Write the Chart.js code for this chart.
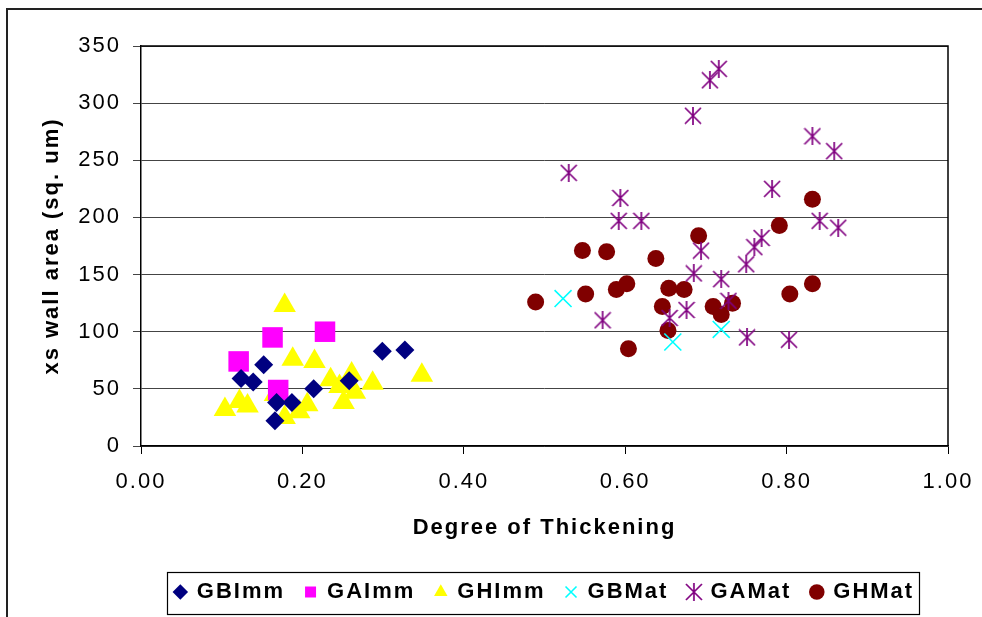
<!DOCTYPE html>
<html>
<head>
<meta charset="utf-8">
<script src="https://cdn.jsdelivr.net/npm/chart.js@4.4.1/dist/chart.umd.min.js"></script>
<style>
    html, body { margin: 0; padding: 0; background: #fff; }
    #wrap { width: 982px; height: 617px; position: relative; }
</style>
</head>
<body>
<div id="wrap"><canvas id="grafico"></canvas></div>
<script>
// valores: [grau de espessamento, área da parede]
const gbImm = [[0.124, 59], [0.139, 56], [0.152, 71], [0.168, 38], [0.166, 22], [0.187, 38],
    [0.214, 50], [0.258, 57], [0.299, 83], [0.327, 84]];
const gaImm = [[0.121, 74], [0.163, 95], [0.228, 100], [0.170, 49]];
const ghImm = [[0.104, 32], [0.122, 39], [0.132, 35], [0.166, 45], [0.178, 25], [0.196, 30],
    [0.178, 123], [0.188, 76], [0.215, 74], [0.206, 36], [0.235, 58], [0.246, 52], [0.261, 63],
    [0.251, 38], [0.265, 47], [0.287, 55], [0.348, 62]];
const gbMat = [[0.523, 129], [0.719, 102], [0.659, 91]];
const gaMat = [[0.530, 239], [0.594, 217], [0.592, 197], [0.620, 197], [0.782, 225], [0.841, 197],
    [0.864, 191], [0.769, 182], [0.760, 174], [0.750, 159], [0.694, 171], [0.685, 151], [0.719, 146],
    [0.676, 119], [0.572, 110], [0.655, 112], [0.728, 127], [0.751, 95], [0.803, 93], [0.716, 330],
    [0.705, 320], [0.684, 289], [0.832, 271], [0.859, 258]];
const ghMat = [[0.489, 126], [0.547, 171], [0.577, 170], [0.551, 133], [0.589, 137], [0.602, 142],
    [0.638, 164], [0.604, 85], [0.691, 184], [0.654, 138], [0.673, 137], [0.646, 122], [0.653, 101],
    [0.709, 122], [0.719, 115], [0.733, 125], [0.791, 193], [0.832, 216], [0.804, 133], [0.832, 142]];

const seriesNames = ['GBImm', 'GAImm', 'GHImm', 'GBMat', 'GAMat', 'GHMat'];
const xTickLabels = ['0.00', '0.20', '0.40', '0.60', '0.80', '1.00'];
const yTickLabels = ['0', '50', '100', '150', '200', '250', '300', '350'];

const toPoints = lista => lista.map(p => ({ x: p[0], y: p[1] }));

// asterisco do Excel: X com traço vertical
function criarAsterisco(cor, tamanho) {
    const c = document.createElement('canvas');
    c.width = tamanho;
    c.height = tamanho;
    const g = c.getContext('2d');
    const m = tamanho / 2;
    const d = tamanho / 2 - 1;
    g.strokeStyle = cor;
    g.lineWidth = 1.7;
    g.beginPath();
    g.moveTo(m - d, m - d); g.lineTo(m + d, m + d);
    g.moveTo(m + d, m - d); g.lineTo(m - d, m + d);
    g.moveTo(m, 0); g.lineTo(m, tamanho);
    g.stroke();
    return c;
}

const asterisco = criarAsterisco('#800080', 18);

// o texto do Excel sai mais espaçado
const espacamento = {
    id: 'espacamento',
    beforeLayout(chart) { chart.ctx.letterSpacing = '2px'; },
    beforeDraw(chart) { chart.ctx.letterSpacing = '2px'; }
};

const bordas = {
    id: 'bordas',
    afterDraw(chart) {
        const ctx = chart.ctx;
        const a = chart.chartArea;
        ctx.save();
        ctx.strokeStyle = '#000';
        ctx.lineWidth = 1.5;
        ctx.beginPath();
        ctx.moveTo(a.left, a.top);
        ctx.lineTo(a.right, a.top);
        ctx.lineTo(a.right, a.bottom);
        ctx.stroke();
        // moldura externa
        ctx.strokeStyle = '#222';
        ctx.lineWidth = 2;
        ctx.strokeRect(7, 9, 1100, 1100);
        // caixa da legenda
        ctx.lineWidth = 1.2;
        ctx.strokeStyle = '#000';
        ctx.strokeRect(167.5, 572.5, 752, 42);
        ctx.restore();
    }
};

const fonte = 'Liberation Sans, Arial, sans-serif';

const ctx = document.getElementById('grafico').getContext('2d');
new Chart(ctx, {
    type: 'scatter',
    data: {
        datasets: [
            { label: seriesNames[0], data: toPoints(gbImm), pointStyle: 'rectRot', pointRadius: 9.5,
              backgroundColor: '#000080', borderColor: '#000080', borderWidth: 0 },
            { label: seriesNames[1], data: toPoints(gaImm), pointStyle: 'rect', pointRadius: 14.5,
              backgroundColor: '#FF00FF', borderColor: '#FF00FF', borderWidth: 0 },
            { label: seriesNames[2], data: toPoints(ghImm), pointStyle: 'triangle', pointRadius: 13,
              backgroundColor: '#FFFF00', borderColor: '#FFFF00', borderWidth: 0 },
            { label: seriesNames[3], data: toPoints(gbMat), pointStyle: 'crossRot', pointRadius: 12,
              backgroundColor: '#00FFFF', borderColor: '#00FFFF', borderWidth: 1.6 },
            { label: seriesNames[4], data: toPoints(gaMat), pointStyle: asterisco, pointRadius: 9,
              backgroundColor: '#800080', borderColor: '#800080' },
            { label: seriesNames[5], data: toPoints(ghMat), pointStyle: 'circle', pointRadius: 8.5,
              backgroundColor: '#800000', borderColor: '#800000', borderWidth: 0 }
        ]
    },
    options: {
        responsive: true,
        maintainAspectRatio: false,
        animation: false,
        layout: { padding: { left: 6, right: 34, top: 46, bottom: 4 } },
        plugins: {
            tooltip: { enabled: false },
            legend: {
                position: 'bottom',
                fullSize: false,
                labels: {
                    usePointStyle: true,
                    boxWidth: 11,
                    boxHeight: 11,
                    color: '#000',
                    padding: 20,
                    font: { family: fonte, size: 22, weight: 'bold' }
                }
            }
        },
        scales: {
            x: {
                type: 'linear',
                min: 0,
                max: 1,
                afterFit: (scale) => { scale.height = 115; },
                ticks: {
                    stepSize: 0.2,
                    color: '#000',
                    padding: 4,
                    font: { family: fonte, size: 22, lineHeight: 2.2 },
                    callback: (v, i) => xTickLabels[i]
                },
                grid: { drawOnChartArea: false, tickLength: 8, color: '#000' },
                border: { display: true, color: '#000', width: 1.5 },
                title: {
                    display: true,
                    text: 'Degree of Thickening',
                    color: '#000',
                    padding: { top: 4, bottom: 20 },
                    font: { family: fonte, size: 22, weight: 'bold' }
                }
            },
            y: {
                min: 0,
                max: 350,
                afterFit: (scale) => { scale.width = 135; },
                ticks: {
                    stepSize: 50,
                    color: '#000',
                    padding: 12,
                    font: { family: fonte, size: 22 },
                    callback: (v, i) => yTickLabels[i]
                },
                grid: { color: '#444', tickLength: 8, lineWidth: 1 },
                border: { display: true, color: '#000', width: 1.5 },
                title: {
                    display: true,
                    text: 'xs wall area (sq. um)',
                    color: '#000',
                    padding: { top: 33, bottom: 0 },
                    font: { family: fonte, size: 22, weight: 'bold' }
                }
            }
        }
    },
    plugins: [espacamento, bordas]
});
</script>
</body>
</html>
